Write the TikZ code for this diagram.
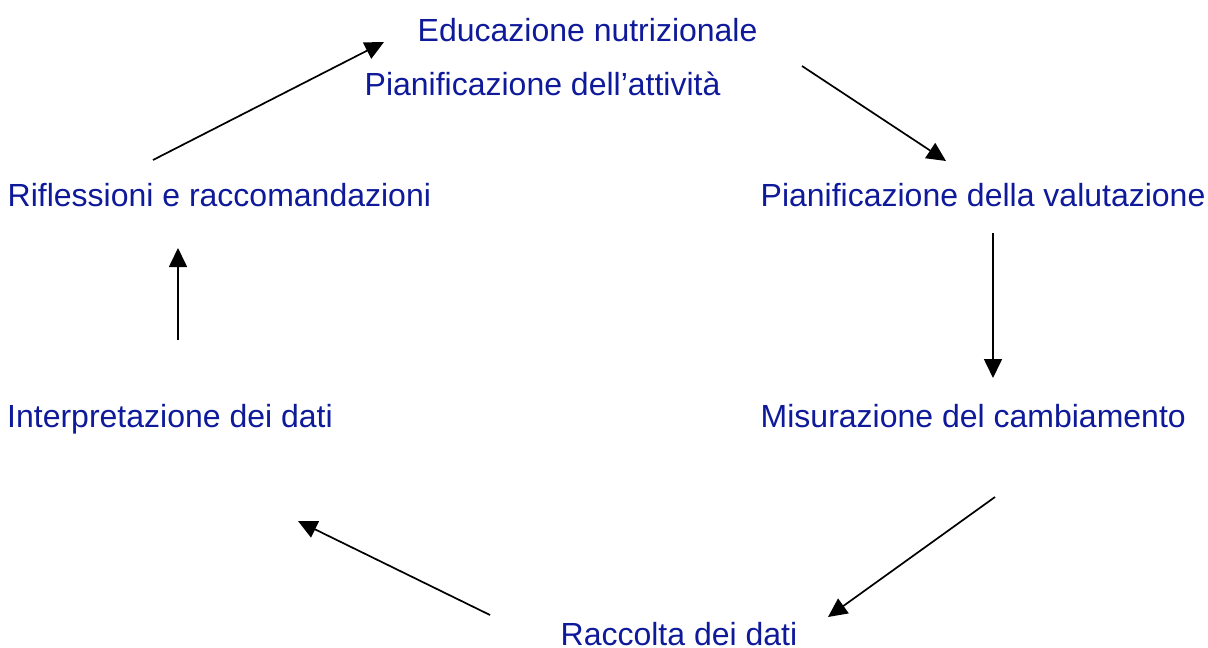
\documentclass[tikz,border=0pt]{standalone}
\usepackage{fontspec}
\setmainfont{Liberation Sans}
\usetikzlibrary{arrows.meta}
\definecolor{lbl}{RGB}{14,26,154}
\begin{document}
\begin{tikzpicture}[x=1pt,y=-1pt,
  lab/.style={anchor=base west,inner sep=0pt,text=lbl,font=\fontsize{32}{36}\selectfont},
  conn/.style={draw=black,line width=1.7pt,-{Triangle[length=19pt,width=18pt]}}]
\useasboundingbox (0,0) rectangle (1208,648);
\node[lab] (edu) at (417.5,41) {Educazione nutrizionale};
\node[lab] (pat) at (364.5,95) {Pianificazione dell’attività};
\node[lab] (rif) at (7.5,206) {Riflessioni e raccomandazioni};
\node[lab] (pva) at (760.5,206) {Pianificazione della valutazione};
\node[lab] (int) at (7,427) {Interpretazione dei dati};
\node[lab] (mis) at (760.5,427) {Misurazione del cambiamento};
\node[lab] (rac) at (560.5,645) {Raccolta dei dati};
\coordinate (a1s) at (153,160); \coordinate (a1e) at (384,42);
\coordinate (a2s) at (802,66);  \coordinate (a2e) at (946,161);
\coordinate (a3s) at (993,233); \coordinate (a3e) at (993,378);
\coordinate (a4s) at (995,497); \coordinate (a4e) at (828,617);
\coordinate (a5s) at (490,615); \coordinate (a5e) at (298,521);
\coordinate (a6s) at (178,340); \coordinate (a6e) at (178,248);
\draw[conn] (a1s) -- (a1e);
\draw[conn] (a2s) -- (a2e);
\draw[conn] (a3s) -- (a3e);
\draw[conn] (a4s) -- (a4e);
\draw[conn] (a5s) -- (a5e);
\draw[conn] (a6s) -- (a6e);
\end{tikzpicture}
\end{document}
